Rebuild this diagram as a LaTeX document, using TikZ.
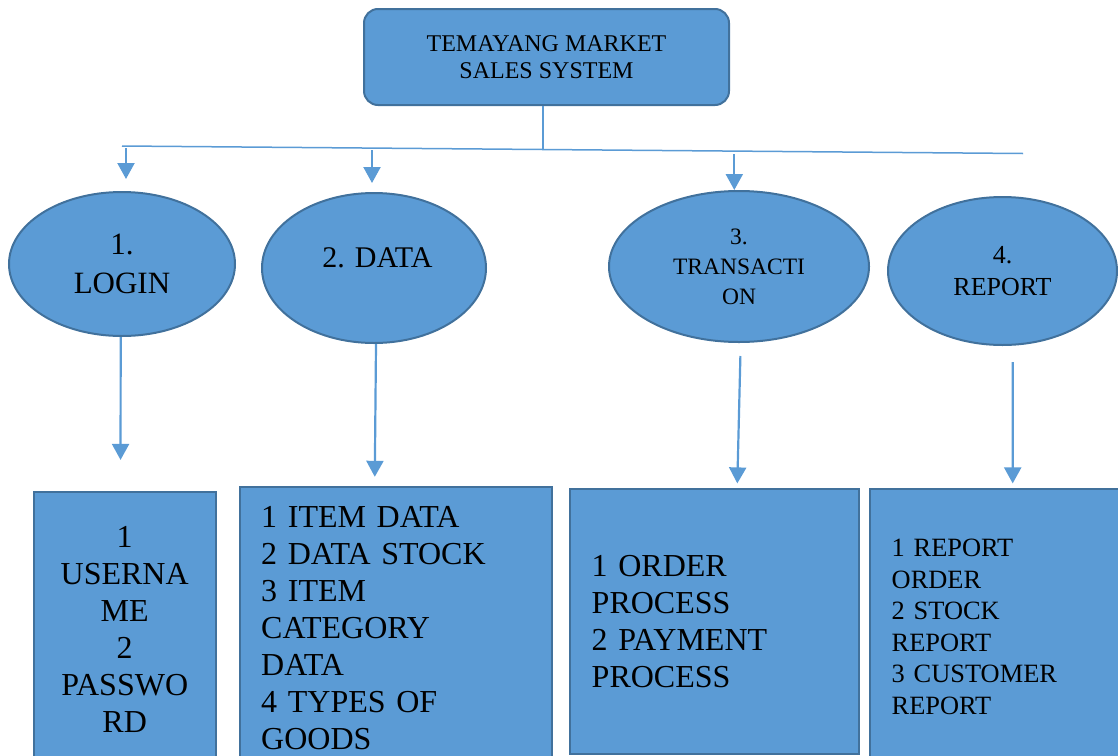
\documentclass[tikz,border=0pt]{standalone}
\usepackage{fontspec}
\setmainfont{Liberation Serif}
\usetikzlibrary{arrows.meta, shapes.geometric, positioning, calc}
\definecolor{shapeblue}{RGB}{91,155,213}
\definecolor{edgeblue}{RGB}{65,113,156}
\definecolor{lineblue}{RGB}{91,155,213}
\newcommand{\fs}[2]{\fontsize{#1}{#2}\selectfont}

\begin{document}
\begin{tikzpicture}[
    x=1pt, y=-1pt,
    basebox/.style={rectangle, draw=edgeblue, fill=shapeblue, line width=2pt, inner sep=0pt, text=black},
    titlebox/.style={basebox, rounded corners=14pt, minimum width=365pt, minimum height=96pt, align=center, font=\fs{24}{27}},
    proc/.style={ellipse, draw=edgeblue, fill=shapeblue, line width=2pt, inner sep=0pt, align=center},
    listbox/.style={basebox, align=left, inner xsep=21.5pt, inner ysep=0pt, font=\fs{32}{37}},
    arr/.style={-{Triangle[width=17pt, length=16pt]}, draw=lineblue, line width=2.2pt},
    bus/.style={draw=lineblue, line width=1.5pt}
]
\useasboundingbox (0,0) rectangle (1118,755);
\clip (0,0) rectangle (1118,755);

% top of the tree
\node[titlebox] (title) at (546.5,57) {TEMAYANG MARKET\\SALES SYSTEM};

% main menus
\node[proc, minimum width=226pt, minimum height=144pt, font=\fs{31}{38.5}] (login) at (122,264) {1.\\LOGIN};
\node[proc, minimum width=224pt, minimum height=150pt] (data) at (374,268) {};
\node[font=\fs{30}{36}, anchor=base] (datatxt) at (377.5,267.3) {2. DATA};
\node[proc, minimum width=260pt, minimum height=151pt, font=\fs{23.5}{30}] (trans) at (739,266.5) {3.\\TRANSACTI\\ON};
\node[proc, minimum width=229pt, minimum height=148pt, font=\fs{26}{32}] (report) at (1002.5,271) {4.\\REPORT};

% sub menus
\node[listbox, align=center, text width=138.8pt, minimum height=275pt] (userbox) at (124.7,629)
    {1\\USERNA\\ME\\2\\PASSWO\\RD};
\node[listbox, text width=269.3pt, minimum height=282pt] (databox) at (395.85,628)
    {1 ITEM DATA\\2 DATA STOCK\\3 ITEM\\CATEGORY\\DATA\\4 TYPES OF\\GOODS};
\node[listbox, text width=246pt, minimum height=265.2pt] (procbox) at (714.7,621.4)
    {1 ORDER\\PROCESS\\2 PAYMENT\\PROCESS};
\node[listbox, text width=216.8pt, minimum height=276.2pt, font=\fs{26.4}{31.5}] (repbox) at (1000.1,626.9)
    {1 REPORT\\ORDER\\2 STOCK\\REPORT\\3 CUSTOMER\\REPORT};

% branch line
\coordinate (busL) at (122,146);
\coordinate (busR) at (1023,153.5);
\draw[bus] (busL) -- (busR);
\path (busL) -- (busR) coordinate[pos=0.4673] (busJ);
\draw[bus] (title.south -| busJ) -- (busJ);

\coordinate (tap1) at (126,148);
\coordinate (tap2) at (372,150);
\coordinate (tap3) at (734.3,154);
\draw[arr, shorten >=12pt] (tap1) -- (tap1 |- login.north);
\draw[arr, shorten >=9pt] (tap2) -- (tap2 |- data.north);
\draw[arr] (tap3) -- (tap3 |- trans.north);

% down to the sub menus
\draw[arr, shorten >=30.6pt] ([xshift=-1.3pt]login.south) -- ([xshift=-4.2pt]userbox.north);
\draw[arr, shorten >=9.2pt] ([xshift=2pt]data.south) -- ([xshift=-21.15pt]databox.north);
\draw[arr, shorten <=13pt, shorten >=4.4pt] ([xshift=1.7pt]trans.south) -- ([xshift=22.5pt]procbox.north);
\draw[arr, shorten <=16pt, shorten >=4.4pt] ([xshift=10.2pt]report.south) -- ([xshift=12.6pt]repbox.north);
\end{tikzpicture}
\end{document}
